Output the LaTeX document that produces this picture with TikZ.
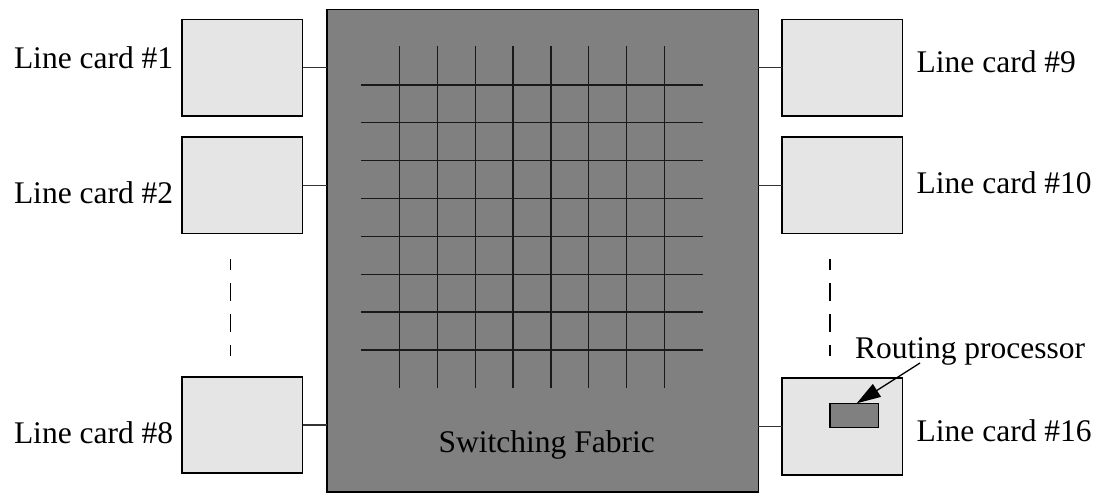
\documentclass[tikz,border=0pt]{standalone}
\usepackage{fontspec}
\setmainfont{Liberation Serif}
\usetikzlibrary{arrows.meta,calc}
\begin{document}
\begin{tikzpicture}[x=1pt,y=-1pt,
  card/.style={draw=black,line width=1.6pt,fill=black!10,rectangle,inner sep=0pt,outer sep=0pt,minimum width=120.5pt,minimum height=96.5pt},
  fabricbox/.style={draw=black,line width=1.6pt,fill=black!50,rectangle,inner sep=0pt,outer sep=0pt,minimum width=431.6pt,minimum height=482.5pt},
  procbox/.style={draw=black,line width=1.4pt,fill=black!50,rectangle,inner sep=0pt,outer sep=0pt,minimum width=48.3pt,minimum height=24.4pt},
  conn/.style={line width=1.3pt,draw=black!80},
  gridline/.style={line width=1.3pt,draw=black!90},
  lbl/.style={font=\fontsize{31.5}{38}\selectfont,inner sep=0pt,outer sep=0pt},
  gapline/.style={line width=1.3pt,dash pattern=on 18pt off 13pt,dash phase=7pt}
]
\useasboundingbox (0,0) rectangle (1101,502);
% fabric
\node[fabricbox] (fabric) at (542.5,250.75) {};
% grid
\foreach \i in {0,...,7} {
  \draw[gridline] ({399.7+\i*37.8},46) -- ({399.7+\i*37.8},387.7);
  \draw[gridline] (361,{85+\i*37.85}) -- (702.7,{85+\i*37.85});
}
\node[lbl,anchor=base] (fablbl) at (546.7,453) {Switching Fabric};
% left cards
\node[card] (c1) at (242.25,67.75) {};
\node[card] (c2) at (242.25,185.25) {};
\node[card] (c8) at (242.25,425) {};
% right cards
\node[card] (c9) at (842.2,67.75) {};
\node[card] (c10) at (842.2,185.25) {};
\node[card] (c16) at (842.2,426.5) {};
% routing processor
\node[procbox] (rp) at (854.15,415.5) {};
% connectors
\foreach \c in {c1,c2,c8} \draw[conn] (\c.east) -- (\c.east -| fabric.west);
\foreach \c in {c9,c10,c16} \draw[conn] (\c.west) -- (\c.west -| fabric.east);
% dashed continuation lines
\coordinate (dl1) at (230.3,259);
\coordinate (dl2) at (230.3,356);
\coordinate (dr1) at (830,259);
\coordinate (dr2) at (830,356);
\draw[gapline] (dl1) -- (dl2);
\draw[gapline] (dr1) -- (dr2);
% labels
\node[lbl,anchor=base west] (l1) at (14,68.3) {Line card \#1};
\node[lbl,anchor=base west] (l2) at (14,203.3) {Line card \#2};
\node[lbl,anchor=base west] (l8) at (14,443.3) {Line card \#8};
\node[lbl,anchor=base west] (l9) at (916.7,72.7) {Line card \#9};
\node[lbl,anchor=base west] (l10) at (916.7,193.3) {Line card \#10};
\node[lbl,anchor=base west] (l16) at (916.7,441.7) {Line card \#16};
\node[lbl,anchor=base west] (lrp) at (855,359) {Routing processor};
% arrow
\coordinate (atail) at (920,363);
\coordinate (ahead) at (856.7,403.3);
\draw[line width=1.3pt,-{Triangle[length=24pt,width=15pt]}] (atail) -- (ahead);
\end{tikzpicture}
\end{document}
